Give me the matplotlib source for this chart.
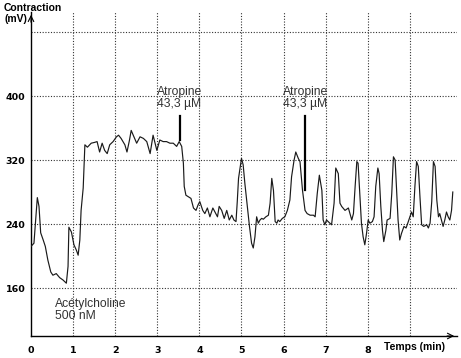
import matplotlib
matplotlib.use("Agg")
import matplotlib.pyplot as plt

# trace (time in min, contraction in mV)
temps = [0.00, 0.07, 0.15, 0.19, 0.23, 0.29, 0.34, 0.40, 0.47, 0.52, 0.60, 0.68,
         0.76, 0.84, 0.88, 0.90, 0.96, 1.02, 1.08, 1.12, 1.16, 1.19, 1.24, 1.28,
         1.34, 1.43, 1.51, 1.57, 1.63, 1.69, 1.75, 1.81, 1.87, 1.95, 2.03, 2.08,
         2.14, 2.23, 2.28, 2.34, 2.38, 2.46, 2.51, 2.59, 2.67, 2.75, 2.83, 2.90,
         2.99, 3.06, 3.14, 3.22, 3.30, 3.38, 3.46, 3.52, 3.58, 3.62, 3.64, 3.68,
         3.74, 3.80, 3.86, 3.92, 3.97, 4.01, 4.08, 4.13, 4.19, 4.25, 4.32, 4.37,
         4.43, 4.47, 4.53, 4.59, 4.65, 4.71, 4.77, 4.82, 4.87, 4.90, 4.93, 5.00,
         5.04, 5.08, 5.14, 5.19, 5.24, 5.28, 5.32, 5.36, 5.40, 5.44, 5.48, 5.52,
         5.58, 5.64, 5.68, 5.72, 5.76, 5.80, 5.84, 5.87, 5.91, 5.97, 6.03, 6.09,
         6.15, 6.19, 6.25, 6.29, 6.35, 6.39, 6.45, 6.51, 6.56, 6.63, 6.71, 6.75,
         6.80, 6.85, 6.91, 6.94, 6.98, 7.02, 7.10, 7.14, 7.20, 7.24, 7.30, 7.34,
         7.38, 7.46, 7.54, 7.62, 7.66, 7.70, 7.74, 7.77, 7.81, 7.85, 7.89, 7.93,
         7.97, 8.01, 8.05, 8.11, 8.15, 8.19, 8.24, 8.27, 8.31, 8.35, 8.38, 8.43,
         8.46, 8.53, 8.57, 8.61, 8.65, 8.69, 8.72, 8.76, 8.80, 8.86, 8.91, 8.95,
         9.00, 9.04, 9.08, 9.12, 9.16, 9.20, 9.24, 9.28, 9.33, 9.40, 9.44, 9.48,
         9.52, 9.56, 9.60, 9.64, 9.68, 9.71, 9.75, 9.79, 9.83, 9.87, 9.91, 9.95,
         9.99, 10.02]
contraction = [212, 216, 273, 262, 229, 220, 212, 195, 180, 176, 178, 173,
               170, 166, 187, 236, 230, 214, 207, 201, 220, 257, 285, 339,
               336, 341, 342, 343, 330, 341, 332, 328, 339, 343, 349, 351,
               347, 339, 330, 345, 357, 347, 341, 349, 347, 343, 328, 351,
               332, 345, 343, 343, 341, 341, 337, 343, 337, 316, 287, 276,
               274, 272, 260, 257, 264, 268, 257, 253, 260, 249, 260, 255,
               249, 262, 257, 247, 257, 245, 251, 245, 243, 268, 297, 322,
               314, 291, 262, 237, 216, 210, 224, 249, 241, 245, 247, 246,
               249, 251, 266, 297, 282, 243, 241, 245, 243, 247, 249, 257,
               270, 299, 320, 330, 322, 318, 282, 257, 253, 251, 251, 249,
               278, 301, 282, 245, 239, 245, 241, 239, 266, 310, 303, 266,
               262, 257, 260, 245, 253, 287, 318, 316, 278, 241, 224, 214,
               228, 245, 241, 243, 249, 287, 310, 303, 262, 232, 218, 232,
               245, 247, 278, 324, 320, 278, 245, 220, 228, 237, 235, 241,
               249, 255, 249, 287, 318, 312, 274, 239, 237, 239, 235, 241,
               268, 318, 312, 270, 249, 253, 245, 237, 245, 255, 249, 245,
               257, 280]

x_ticks = [0, 1, 2, 3, 4, 5, 6, 7, 8]
x_grid = [1, 2, 3, 4, 5, 6, 7, 8, 9]
y_ticks = [160, 240, 320, 400]
y_grid = [160, 240, 320, 400, 480]

# injection markers: (time, line bottom, line top, label, label x)
injections = [(3.54, 345, 375, "Atropine\n43,3 µM", 3.00),
              (6.51, 282, 375, "Atropine\n43,3 µM", 5.98)]

plt.rcParams['font.family'] = ['Liberation Sans', 'DejaVu Sans']

fig = plt.figure(figsize=(4.61, 3.58), dpi=100)
ax = fig.add_axes([31 / 461, 22 / 358, 426 / 461, 324 / 358])
ax.set_xlim(0, 10.12)
ax.set_ylim(100, 505)

for g in x_grid:
    ax.axvline(g, color='#333333', lw=0.8, ls=(0, (1, 1.5)), zorder=1)
for g in y_grid:
    ax.axhline(g, color='#333333', lw=0.8, ls=(0, (1, 1.5)), zorder=1)

ax.plot(temps, contraction, color='#1a1a1a', lw=0.85, zorder=3)

for t, y0, y1, label, tx in injections:
    ax.plot([t, t], [y0, y1], color='black', lw=1.6, zorder=4)
    ax.text(tx, 383, label, fontsize=8.7, color='#333333', va='bottom',
            ha='left', linespacing=1.0)

ax.text(0.57, 118, "Acétylcholine\n500 nM", fontsize=8.7, color='#333333',
        va='bottom', ha='left', linespacing=1.0)

for s in ['top', 'right']:
    ax.spines[s].set_visible(False)
for s in ['left', 'bottom']:
    ax.spines[s].set_linewidth(1.0)
    ax.spines[s].set_color('black')

ax.set_xticks(x_ticks)
ax.set_yticks(y_ticks)
ax.tick_params(length=0)
ax.tick_params(axis='x', pad=7)
ax.tick_params(axis='y', pad=4)
for lab in ax.get_xticklabels() + ax.get_yticklabels():
    lab.set_fontweight('bold')
    lab.set_family('DejaVu Sans')
    lab.set_fontsize(6.8)

# axis arrows
ax.annotate('', xy=(1.0, 0), xytext=(0.97, 0), xycoords='axes fraction',
            arrowprops=dict(arrowstyle='->', lw=0.8, color='black'))
ax.annotate('', xy=(0, 1.0), xytext=(0, 0.96), xycoords='axes fraction',
            arrowprops=dict(arrowstyle='->', lw=0.8, color='black'))

fig.text(4 / 461, 1 - 3 / 358, "Contraction\n(mV)", fontsize=7.5,
         fontweight='bold', va='top', ha='left', linespacing=1.15)
fig.text(445 / 461, 1 - 347 / 358, "Temps (min)", fontsize=7.5,
         fontweight='bold', va='center', ha='right')

fig.savefig("out.png", dpi=100)
